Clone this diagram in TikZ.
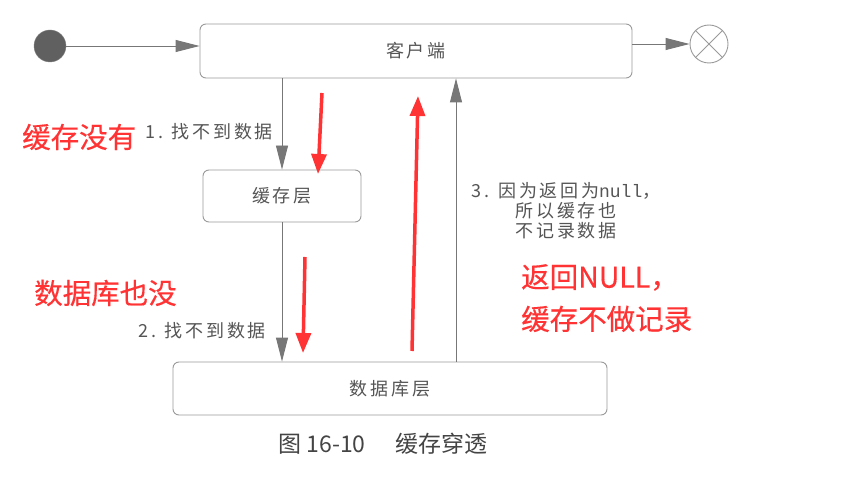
\documentclass[tikz,border=0pt]{standalone}
\usepackage{fontspec}
\setmainfont{Noto Sans CJK SC}
\newfontfamily\redfont[FakeBold=0.4]{Noto Sans CJK SC}
\newfontfamily\dgm[LetterSpace=15]{Noto Sans CJK SC}
\newfontfamily\dgmmono{Liberation Mono}
\usetikzlibrary{arrows.meta,calc}
\definecolor{ink}{HTML}{555555}
\definecolor{edge}{HTML}{9A9A9A}
\definecolor{mark}{HTML}{FF3333}
\begin{document}
\begin{tikzpicture}[x=1pt,y=-1pt,
  statebox/.style={draw=edge,line width=0.9pt,rounded corners=6pt,fill=white,text=ink,font=\dgm\fontsize{18}{20}\selectfont,inner sep=0pt},
  conn/.style={draw=edge,line width=0.9pt,-{Triangle[length=24pt,width=12pt]},color=ink!80},
  lbl/.style={text=ink,font=\dgm\fontsize{18}{20}\selectfont,inner sep=0pt},
  redarrow/.style={draw=mark,line width=3.5pt,-{Triangle[length=20pt,width=15pt]}},
  redlbl/.style={text=mark,font=\redfont\fontsize{28.5}{42}\selectfont,inner sep=0pt,align=left}]
\useasboundingbox[fill=white] (0,0) rectangle (846,489);
% nodes
\node[circle,fill=gray!75!black,draw=gray,minimum size=32pt,inner sep=0pt] (s) at (50,46) {};
\node[statebox,minimum width=432pt,minimum height=54pt] (client) at (416,51) {客户端};
\node[circle,draw=edge,line width=0.9pt,minimum size=38pt,inner sep=0pt] (e) at (709,44) {};
\draw[edge,line width=0.9pt] (e.north east) -- (e.south west) (e.north west) -- (e.south east);
\node[statebox,minimum width=158pt,minimum height=52pt] (cache) at (282,196) {缓存层};
\node[statebox,minimum width=434pt,minimum height=53pt] (db) at (390,388.5) {数据库层};
% connectors
\draw[conn] (s) -- (s -| client.west);
\draw[conn] (e -| client.east) -- (e);
\coordinate (c1) at (282,0);
\draw[conn] (client.south -| c1) -- (cache.north -| c1);
\draw[conn] (cache.south -| c1) -- (db.north -| c1);
\coordinate (c3) at (456,0);
\draw[conn] (db.north -| c3) -- (client.south -| c3);
% labels
\node[lbl,anchor=east] (l1) at (273,132) {1. 找不到数据};
\node[lbl,anchor=east] (l2) at (266,331) {2. 找不到数据};
\node[lbl,align=center] (l3) at (566,211) {3. 因为返回为{\dgmmono null}，\\所以缓存也\\不记录数据};
% caption
\node[text=ink!80!black,font=\fontsize{23}{26}\selectfont,inner sep=0pt] (cap) at (383,444) {图 16-10\hspace{30pt}缓存穿透};
% red annotations
\coordinate (r1a) at (322,93);
\coordinate (r1b) at (318,174);
\draw[redarrow] (r1a) -- (r1b);
\coordinate (r2a) at (412,351);
\coordinate (r2b) at (418,96);
\draw[redarrow] (r2a) -- (r2b);
\coordinate (r3a) at (305,257);
\coordinate (r3b) at (303,353);
\draw[redarrow] (r3a) -- (r3b);
\node[redlbl,anchor=west] (t1) at (22,137) {缓存没有};
\node[redlbl,anchor=west] (t2) at (34,293) {数据库也没};
\node[redlbl,anchor=north west] (t3) at (521,264) {返回NULL，\\缓存不做记录};
\end{tikzpicture}
\end{document}
